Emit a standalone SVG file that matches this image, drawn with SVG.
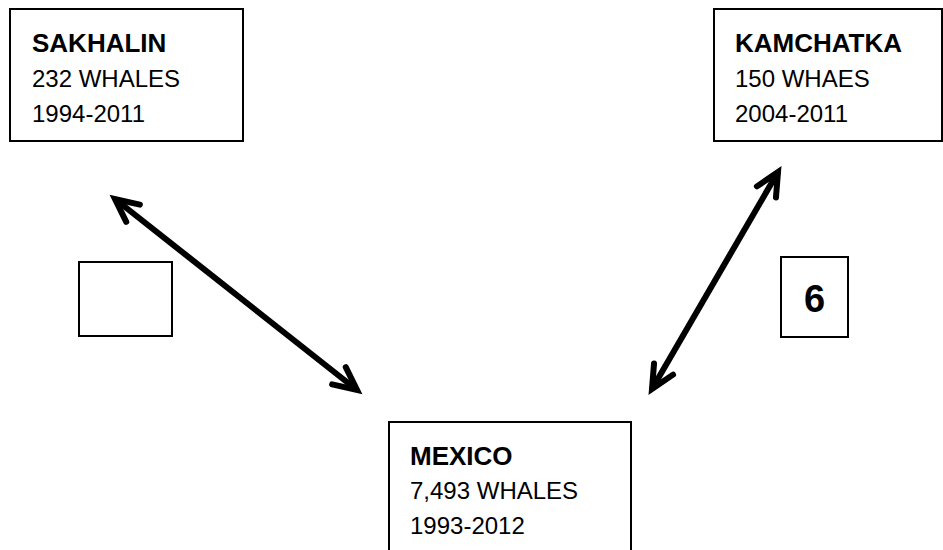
<svg xmlns="http://www.w3.org/2000/svg" width="943" height="550" viewBox="0 0 943 550">
<style>
.box{fill:#fff;stroke:#000;stroke-width:2}
.t{font-family:"Liberation Sans",Arial,sans-serif;font-size:24px;fill:#000}
.b{font-weight:bold;font-size:26px}
.conn{stroke:#000;stroke-width:6;fill:none}
</style>
<defs>
<marker id="ah" markerUnits="userSpaceOnUse" viewBox="-30 -16 36 32" markerWidth="36" markerHeight="32" refX="0" refY="0" orient="auto-start-reverse" overflow="visible">
<path d="M -23 -11 L 0 0 L -23 11" fill="none" stroke="#000" stroke-width="6" stroke-linecap="round" stroke-linejoin="miter"/>
</marker>
</defs>
<g id="sakhalin">
<rect class="box" x="10" y="9" width="233" height="132"/>
<text class="t b" x="32" y="52">SAKHALIN</text>
<text class="t" x="32" y="87">232 WHALES</text>
<text class="t" x="32" y="122">1994-2011</text>
</g>
<g id="kamchatka">
<rect class="box" x="714" y="9" width="228" height="132"/>
<text class="t b" x="735" y="52">KAMCHATKA</text>
<text class="t" x="735" y="87">150 WHAES</text>
<text class="t" x="735" y="122">2004-2011</text>
</g>
<g id="mexico">
<rect class="box" x="389" y="422" width="242" height="140"/>
<text class="t b" x="410" y="465">MEXICO</text>
<text class="t" x="410" y="499">7,493 WHALES</text>
<text class="t" x="410" y="534">1993-2012</text>
</g>
<g id="empty-box">
<rect class="box" x="79" y="262" width="93" height="74"/>
</g>
<g id="label-6">
<rect class="box" x="781" y="257" width="67" height="80"/>
<text class="t b" x="814.5" y="312" text-anchor="middle" style="font-size:38px">6</text>
</g>
<g id="connectors">
<line class="conn" x1="115" y1="199" x2="357" y2="390" marker-start="url(#ah)" marker-end="url(#ah)"/>
<line class="conn" x1="778" y1="172" x2="652" y2="389" marker-start="url(#ah)" marker-end="url(#ah)"/>
</g>
</svg>
